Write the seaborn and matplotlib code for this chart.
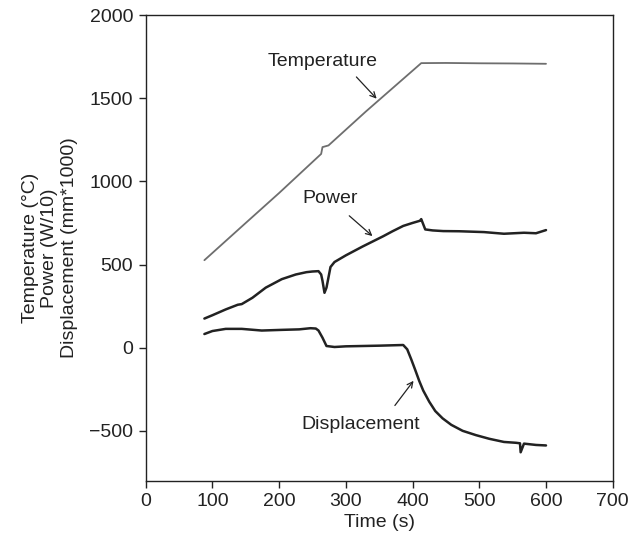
import pandas as pd
import matplotlib
matplotlib.use("Agg")
import matplotlib.pyplot as plt
import seaborn as sns

# values
temp_time = [88, 150, 200, 263, 265, 274, 330, 413, 450, 500, 550, 600]
temp_val = [526, 750, 930, 1165, 1206, 1216, 1420, 1711, 1712, 1710, 1709, 1707]

power_time = [88, 100, 120, 138, 144, 160, 180, 204, 225, 241, 250, 259, 263, 265,
              268, 271, 277, 283, 300, 325, 340, 356, 370, 386, 400, 411, 413, 419,
              430, 446, 470, 507, 537, 567, 585, 600]
power_val = [175, 195, 230, 258, 262, 300, 361, 412, 440, 454, 458, 460, 440, 402,
             330, 361, 485, 515, 555, 608, 638, 670, 700, 732, 750, 763, 773, 711,
             705, 701, 700, 695, 685, 691, 688, 707]

disp_time = [88, 100, 120, 144, 174, 204, 230, 247, 255, 259, 265, 271, 283, 300,
             325, 350, 386, 392, 398, 404, 410, 416, 425, 434, 445, 458, 475, 495,
             515, 537, 555, 561, 562, 567, 585, 600]
disp_val = [82, 100, 113, 113, 103, 107, 110, 117, 115, 103, 60, 10, 4, 8,
            10, 12, 16, -10, -70, -134, -200, -258, -325, -381, -425, -464, -500, -526,
            -548, -567, -572, -575, -629, -577, -585, -588]

temp = pd.DataFrame({"time": temp_time, "value": temp_val})
power = pd.DataFrame({"time": power_time, "value": power_val})
disp = pd.DataFrame({"time": disp_time, "value": disp_val})

sns.set_style("ticks")
plt.rcParams["font.family"] = ["Liberation Sans", "DejaVu Sans"]

fig = plt.figure(figsize=(6.32, 5.38), dpi=100)
ax = fig.add_axes([0.2305, 0.1065, 0.739, 0.8655])

sns.lineplot(data=temp, x="time", y="value", ax=ax, color="#6e6e6e", linewidth=1.3)
sns.lineplot(data=power, x="time", y="value", ax=ax, color="#222222", linewidth=1.8)
sns.lineplot(data=disp, x="time", y="value", ax=ax, color="#222222", linewidth=1.8)

ax.set_xlim(0, 700)
ax.set_ylim(-800, 2000)
ax.set_xticks(range(0, 701, 100))
ax.set_yticks([-500, 0, 500, 1000, 1500, 2000])
ax.set_yticklabels(["\u2212500", "0", "500", "1000", "1500", "2000"])
ax.tick_params(labelsize=14, length=5, width=1, colors="#222222", pad=4)
for s in ax.spines.values():
    s.set_linewidth(1.0)
    s.set_color("#222222")

ax.set_xlabel("Time (s)", fontsize=14, labelpad=3, color="#222222")
ax.set_ylabel("Temperature (\u00b0C)\nPower (W/10)\nDisplacement (mm*1000)",
              fontsize=14, labelpad=8, color="#222222", linespacing=1.2)

arrow = dict(arrowstyle="->", color="#222222", lw=0.9)

ax.annotate("", xy=(349, 1485), xytext=(313, 1640), arrowprops=arrow)
ax.text(265, 1722, "Temperature", fontsize=14, ha="center", va="center", color="#222222")

ax.annotate("", xy=(343, 660), xytext=(302, 804), arrowprops=arrow)
ax.text(277, 897, "Power", fontsize=14, ha="center", va="center", color="#222222")

ax.annotate("", xy=(404, -186), xytext=(371, -361), arrowprops=arrow)
ax.text(322, -464, "Displacement", fontsize=14, ha="center", va="center", color="#222222")

fig.savefig("out.png", dpi=100)
